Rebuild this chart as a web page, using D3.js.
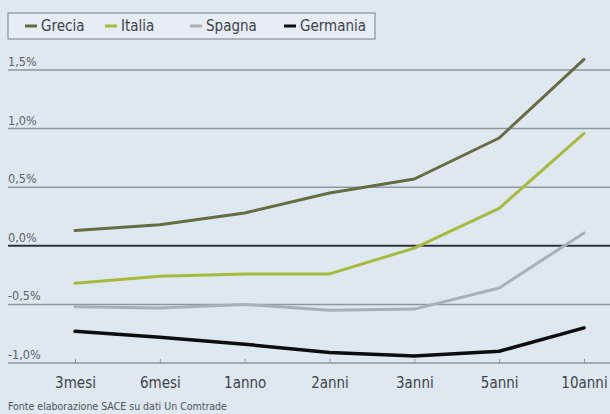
<!DOCTYPE html>
<html><head><meta charset="utf-8">
<script src="https://cdn.jsdelivr.net/npm/d3@7"></script>
<style>
body{margin:0;background:#dfe8f1;}
svg{display:block;font-family:"Liberation Sans Narrow","DejaVu Sans Condensed","Roboto Condensed",sans-serif;}
</style></head><body>
<svg id="c" width="610" height="414"></svg>
<script>
const categories = ["3mesi","6mesi","1anno","2anni","3anni","5anni","10anni"];
const grecia   = [0.13, 0.18, 0.28, 0.45, 0.57, 0.92, 1.59];
const italia   = [-0.32, -0.26, -0.24, -0.24, -0.02, 0.32, 0.96];
const spagna   = [-0.52, -0.53, -0.50, -0.55, -0.54, -0.36, 0.11];
const germania = [-0.73, -0.78, -0.84, -0.91, -0.94, -0.90, -0.70];
const seriesNames = ["Grecia","Italia","Spagna","Germania"];
const yTicks = [1.5, 1.0, 0.5, 0.0, -0.5, -1.0];
const yTickLabels = ["1,5%","1,0%","0,5%","0,0%","-0,5%","-1,0%"];
const source = "Fonte elaborazione SACE su dati Un Comtrade";

const colors = {Grecia:"#676b42", Italia:"#a8ba3c", Spagna:"#a9b1b7", Germania:"#0d0d0d"};
const data = {Grecia:grecia, Italia:italia, Spagna:spagna, Germania:germania};

const svg = d3.select("#c");
svg.append("rect").attr("width",610).attr("height",414).attr("fill","#dfe8f1");

const x = d3.scalePoint().domain(categories).range([75, 584]);
const y = d3.scaleLinear().domain([-1, 1.5]).range([363, 70]);

// gridlines
const g = svg.append("g");
yTicks.forEach((t,i)=>{
  g.append("line").attr("x1",8).attr("x2",610).attr("y1",y(t)).attr("y2",y(t))
   .attr("stroke", t===0 ? "#2e3338" : "#8d979f").attr("stroke-width", t===0?2:1.5);
  g.append("text").attr("x",8).attr("y",y(t)-4).text(yTickLabels[i])
   .attr("font-size",12.5).attr("fill","#5a6168");
});

// x axis
const xAxis = d3.axisBottom(x).tickSize(-4).tickPadding(14);
const ax = svg.append("g").attr("transform",`translate(0,${y(-1)})`).call(xAxis);
ax.select(".domain").remove();
ax.selectAll(".tick line").attr("stroke","#8d979f");
ax.selectAll(".tick text").attr("font-size",15).attr("fill","#3c4248")
  .attr("font-family",'"Liberation Sans Narrow","DejaVu Sans Condensed",sans-serif');

// lines
const line = d3.line().x((d,i)=>x(categories[i])).y(d=>y(d)).curve(d3.curveLinear);
seriesNames.slice().reverse().forEach(n=>{
  svg.append("path").datum(data[n]).attr("d",line).attr("fill","none")
    .attr("stroke",colors[n]).attr("stroke-width", n==="Germania"?3.5:3)
    .attr("stroke-linecap","round").attr("stroke-linejoin","round");
});

// legend
const lg = svg.append("g");
lg.append("rect").attr("x",8).attr("y",13).attr("width",367).attr("height",26)
  .attr("fill","#e6edf4").attr("stroke","#777f86").attr("stroke-width",1);
const lx = [25, 105, 190, 284];
seriesNames.forEach((n,i)=>{
  lg.append("line").attr("x1",lx[i]).attr("x2",lx[i]+12).attr("y1",26).attr("y2",26)
    .attr("stroke",colors[n]).attr("stroke-width",3);
  lg.append("text").attr("x",lx[i]+16).attr("y",31).text(n)
    .attr("font-size",15).attr("fill","#3c4248");
});

svg.append("text").attr("x",8).attr("y",410).text(source)
  .attr("font-size",10.5).attr("fill","#4c5258");
</script>
</body></html>
